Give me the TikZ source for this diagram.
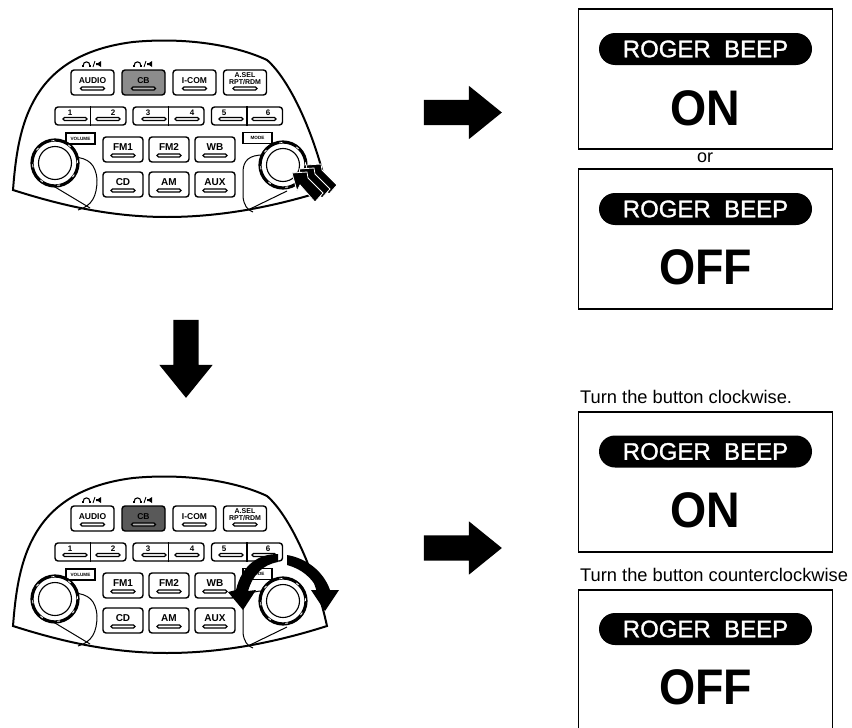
\documentclass[tikz,border=0pt]{standalone}
\usepackage{fontspec}
\setmainfont{Liberation Sans}
\newfontfamily\valuefont[FakeStretch=0.93]{Liberation Sans}
\newfontfamily\pillfont[FakeBold=1.3]{Liberation Sans}
\usetikzlibrary{arrows.meta,shapes,positioning}

\tikzset{
  btn/.style={draw, rounded corners=3pt, line width=1.4pt, minimum width=43pt,
              minimum height=25pt, inner sep=0pt},
  btnrow/.style={btn, minimum width=40pt},
  pairbtn/.style={btn, minimum width=71pt, minimum height=18pt},
  btntext/.style={inner sep=0pt, font=\fontsize{8.5pt}{9pt}\selectfont\bfseries},
  digit/.style={inner sep=0pt, font=\fontsize{8pt}{9pt}\selectfont\bfseries},
  btnbar/.style={draw, rounded corners=1.5pt, line width=1.1pt, fill=white,
                 minimum width=24pt, minimum height=3pt, inner sep=0pt},
  tagbox/.style={draw, line width=1.1pt, minimum width=29pt, minimum height=11pt,
                 inner sep=0pt, font=\fontsize{4.6pt}{5pt}\selectfont\bfseries},
  knobring/.style={circle, draw, line width=3.2pt, minimum size=46pt, inner sep=0pt},
  knobdash/.style={circle, draw=white, line width=0.9pt, dash pattern=on 3pt off 15pt,
                   minimum size=45pt, inner sep=0pt},
  knobcap/.style={circle, draw, line width=1.1pt, minimum size=33pt, inner sep=0pt},
  blockarrow/.style={single arrow, fill=black, inner xsep=0pt, inner ysep=12.5pt,
                     minimum height=78pt, single arrow head extend=14pt,
                     single arrow tip angle=78, single arrow head indent=0pt},
  lcdbox/.style={draw, line width=1.3pt, minimum width=254pt, minimum height=140pt, inner sep=0pt},
  pill/.style={rounded rectangle, fill=black, text=white, minimum width=213pt,
               minimum height=32pt, inner sep=0pt,
               font=\fontsize{24pt}{26pt}\pillfont},
  valuetext/.style={inner sep=0pt, font=\fontsize{50pt}{52pt}\valuefont\bfseries},
  caption/.style={anchor=base west, inner sep=0pt, font=\fontsize{18.3pt}{20pt}\selectfont},
  cbfill/.style={fill=black!45},
  % headset and speaker mark above a button
  pics/headmark/.style={code={
    \draw[line width=1.1pt] (-9,2) .. controls (-9,-3.5) and (-2,-3.5) .. (-2,2);
    \fill (-10,0.5) rectangle (-8,3);
    \fill (-3,0.5) rectangle (-1,3);
    \draw[line width=0.9pt] (1,3) -- (3,-3);
    \fill (4,-1) -- (6,-1) -- (9,-3) -- (9,3) -- (6,1) -- (4,1) -- cycle;
  }},
  % one layer of the pressing arrow
  pics/presslayer/.style={code={
    \filldraw[fill=black, draw=white, line width=0.8pt] (292,173) -- (307,172) -- (308,178)
      -- (323,193) -- (315,202) -- (300,185) -- (297,191) -- cycle;
  }},
  % radio panel
  pics/radio/.style={code={
    \draw[line width=2pt] (13,190) .. controls (18,125) and (30,55) .. (133,42)
      .. controls (185,37) and (235,45) .. (267,60)
      .. controls (290,80) and (315,135) .. (327,190)
      .. controls (280,205) and (225,217) .. (167,217)
      .. controls (110,217) and (60,205) .. (13,190) -- cycle;
    % Top row
    \radiobtn{audio}{92.5,82.5}{AUDIO}
    \node[btn, cbfill] (cb) at (143.5,82.5) {};
    \node[btntext] (cbtext) at ([yshift=2pt]cb.center) {CB};
    \node[btnbar, fill=white!70!black] (cbbar) at ([yshift=-6pt]cb.center) {};
    \radiobtn{icom}{194.5,82.5}{I-COM}
    \node[btn] (asel) at (245,82.5) {};
    \node[btntext, align=center, font=\fontsize{7pt}{7.2pt}\selectfont\bfseries] (aseltext)
      at ([yshift=4pt]asel.center) {A.SEL\\RPT/RDM};
    \node[btnbar] (aselbar) at ([yshift=-6pt]asel.center) {};
    \pic at (92,64) {headmark};
    \pic at (143,64) {headmark};
    % Preset row
    \node[pairbtn] (ptwo) at (90.5,116) {};
    \node[pairbtn] (pfour) at (168.5,116) {};
    \node[pairbtn] (psix) at (247,116) {};
    \draw[line width=1.3pt] (ptwo.north) -- (ptwo.south);
    \draw[line width=1.3pt] (pfour.north) -- (pfour.south);
    \draw[line width=1.3pt] (psix.north) -- (psix.south);
    \presetkey{p1}{70,112.5}{75,119}{1}
    \presetkey{p2}{113,112.5}{108,119}{2}
    \presetkey{p3}{148,112.5}{154,119}{3}
    \presetkey{p4}{192,112.5}{187,119}{4}
    \presetkey{p5}{224,112.5}{231,119}{5}
    \presetkey{p6}{268,112.5}{264,119}{6}
    % Band buttons
    \begin{scope}[btntext/.append style={font=\fontsize{10pt}{11pt}\selectfont\bfseries}]
      \radiobtn[btnrow]{fmone}{123,149.5}{FM1}
      \radiobtn[btnrow]{fmtwo}{169,149.5}{FM2}
      \radiobtn[btnrow]{wb}{215,149.5}{WB}
      \radiobtn[btnrow]{cd}{123,184.5}{CD}
      \radiobtn[btnrow]{am}{169,184.5}{AM}
      \radiobtn[btnrow]{aux}{215,184.5}{AUX}
    \end{scope}
    % Knobs
    \node[tagbox] (volume) at (80.5,138.5) {VOLUME};
    \node[tagbox] (mode) at (257.5,138) {MODE};
    \draw[line width=1pt] (74,157) .. controls (88,158) and (96,164) .. (97,180)
      .. controls (97,196) and (92,206) .. (78,210);
    \draw[line width=1pt] (55,187) -- (90,208);
    \draw[line width=1pt] (263,155) .. controls (250,155) and (243,160) .. (243,172)
      -- (243,197) .. controls (244,205) and (247,210) .. (253,212);
    \draw[line width=1pt] (250,209) -- (287,191);
    \node[knobring, fill=white] (volring) at (55,163) {};
    \node[knobdash] (voldash) at (volring.center) {};
    \node[knobcap] (volcap) at (volring.center) {};
    \node[knobring, fill=white] (modering) at (283,165) {};
    \node[knobdash] (modedash) at (modering.center) {};
    \node[knobcap] (modecap) at (modering.center) {};
  }}
}
\newcommand{\radiobtn}[4][btn]{%
  \node[#1] (#2) at (#3) {};
  \node[btntext] (#2text) at ([yshift=2pt]#2.center) {#4};
  \node[btnbar] (#2bar) at ([yshift=-6pt]#2.center) {};
}
\newcommand{\presetkey}[4]{%
  \node[digit] (#1text) at (#2) {#4};
  \node[btnbar] (#1bar) at (#3) {};
}

\begin{document}
\begin{tikzpicture}[x=1pt, y=-1pt]
  \useasboundingbox (0,0) rectangle (852,728);
  % Panels
  \pic[name prefix=upper] at (0,0) {radio};
  \pic[cbfill/.style={fill=black!65}] at (0,436) {radio};
  % Pressing arrow
  \pic at (14,-8) {presslayer};
  \pic at (7,-4) {presslayer};
  \pic at (0,0) {presslayer};
  % Turning arrows
  \fill (278,554) .. controls (258,554) and (242,565) .. (236,590) -- (228,592)
    -- (243,610) -- (256,590) -- (248,591) .. controls (253,575) and (262,565) .. (278,562) -- cycle;
  \fill (287,555) .. controls (305,558) and (323,570) .. (330,590) -- (339,590)
    -- (325,611) -- (311,590) -- (318,590) .. controls (312,578) and (302,569) .. (287,565) -- cycle;
  % Block arrows
  \node[blockarrow] (goright) at (455,112.5) {};
  \node[blockarrow, shape border rotate=270, inner xsep=12.5pt, inner ysep=0pt] (godown) at (186,351) {};
  \node[blockarrow] (gorightlow) at (455,548) {};
  % Upper displays
  \node[lcdbox] (lcdon) at (705.5,79) {};
  \node[pill] (pillon) at (705.5,49) {ROGER\ \ BEEP};
  \node[valuetext] (valon) at (705.5,108) {ON};
  \node[inner sep=0pt, font=\fontsize{18pt}{20pt}\selectfont] (ortext) at (705,158) {or};
  \node[lcdbox] (lcdoff) at (705.5,239) {};
  \node[pill] (pilloff) at (705.5,209) {ROGER\ \ BEEP};
  \node[valuetext] (valoff) at (705.5,267) {OFF};
  % Lower displays
  \node[caption] (capcw) at (580,403) {Turn the button clockwise.};
  \node[lcdbox] (lcdcw) at (705.5,482) {};
  \node[pill] (pillcw) at (705.5,451.5) {ROGER\ \ BEEP};
  \node[valuetext] (valcw) at (705.5,510) {ON};
  \node[caption] (capccw) at (580,581) {Turn the button counterclockwise};
  \draw[line width=1.3pt] (578.5,728) |- (832.5,590) -- (832.5,728);
  \node[pill] (pillccw) at (705.5,629) {ROGER\ \ BEEP};
  \node[valuetext] (valccw) at (705.5,687) {OFF};
\end{tikzpicture}
\end{document}
